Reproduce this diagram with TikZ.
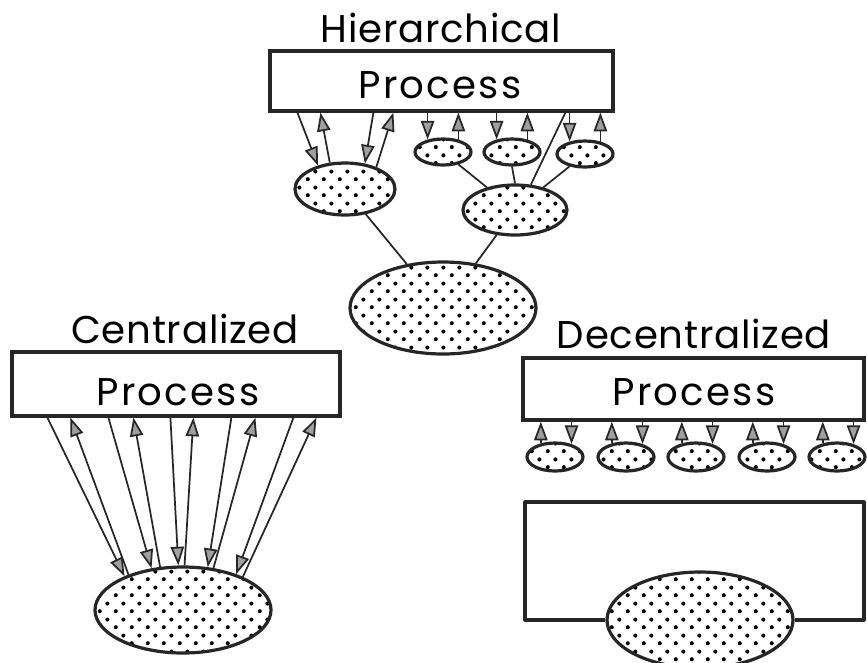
\documentclass[tikz,border=0pt]{standalone}
\usepackage{fontspec}
\setmainfont{Poppins}[LetterSpace=6]
\newfontfamily\headfont{Poppins}[LetterSpace=2]
\usetikzlibrary{arrows.meta,shapes.geometric,patterns.meta,calc}

% stippled fill for the controller ellipses
\tikzdeclarepattern{
  name=stipple,
  type=colored,
  bottom left={(0pt,0pt)},
  top right={(12pt,12pt)},
  tile size={(12pt,12pt)},
  code={
    \fill[black] (3pt,3pt) circle (1.6pt);
    \fill[black] (9pt,9pt) circle (1.6pt);
  }
}

\tikzset{
  pbox/.style={rectangle, draw=black!85, line width=2.4pt, inner sep=0pt},
  rim/.style={draw=black!85, line width=2.4pt, line join=round},
  blob/.style={ellipse, draw=black!85, line width=2.4pt, inner sep=0pt,
    preaction={fill=white}, pattern=stipple},
  lbl/.style={anchor=base, inner sep=0pt, font=\fontsize{29}{30}\selectfont},
  head/.style={anchor=base, inner sep=0pt, font=\headfont\fontsize{29}{30}\selectfont},
  link/.style={draw=black!85, line width=1.3pt},
  sig/.style={link, -{Triangle[length=14pt,width=10pt,fill=gray!75,line width=1.3pt]}},
}

\begin{document}
\begin{tikzpicture}[x=0.75pt, y=-0.75pt]
\useasboundingbox (0,0) rectangle (867,662);

% ---------------- hierarchical ----------------
\node[head] (htitle) at (441,42) {Hierarchical};
\node[pbox, minimum width=257.25pt, minimum height=45pt] (hbox) at (441.5,81) {};
\node[lbl] (htxt) at (440,98) {Process};

\node[blob, minimum width=75pt, minimum height=39pt] (hL) at (345,189) {};
\node[blob, minimum width=78pt, minimum height=37.5pt] (hR) at (515,210) {};
\node[blob, minimum width=42pt, minimum height=19.5pt] (hs1) at (443,152) {};
\node[blob, minimum width=42pt, minimum height=19.5pt] (hs2) at (512,152) {};
\node[blob, minimum width=42pt, minimum height=19.5pt] (hs3) at (585,154) {};
\node[blob, minimum width=139.5pt, minimum height=69pt] (hB) at (443,308) {};

\draw[sig] ($(hbox.south west)+(29,0)$) -- (hL.139);
\draw[sig] (hL.120) -- ($(hbox.south west)+(52,0)$);
\draw[sig] ($(hbox.south west)+(105,0)$) -- (hL.52);
\draw[sig] (hL.35) -- ($(hbox.south west)+(125,0)$);

\foreach \s in {hs1,hs2,hs3}{
  \draw[sig] (hbox.south -| \s.141) -- (\s.141);
  \draw[sig] (\s.39) -- (hbox.south -| \s.39);
}
\draw[link] (hR.58) -- ($(hbox.south west)+(297,0)$);
\draw[link] (hs1) -- (hR);
\draw[link] (hs2.south) -- (hR.north);
\draw[link] (hs3) -- (hR);
\draw[link] (hL) -- (hB);
\draw[link] (hR) -- (hB);

% ---------------- centralized ----------------
\node[head] (ctitle) at (185,343) {Centralized};
\node[pbox, minimum width=246pt, minimum height=48pt] (cbox) at (176,384) {};
\node[lbl] (ctxt) at (178,405) {Process};
\node[blob, minimum width=132pt, minimum height=64.5pt] (cE) at (183,610) {};

\foreach \o/\a in {37/150,98/127,160/96,221/60,283/34}{
  \draw[sig] ($(cbox.south west)+(\o,0)$) -- (cE.\a);
}
\foreach \o/\a in {60/147,123/118,183/88,245/54,306/29}{
  \draw[sig] (cE.\a) -- ($(cbox.south west)+(\o,0)$);
}

% ---------------- decentralized ----------------
\node[head] (dtitle) at (694,348) {Decentralized};
\node[pbox, minimum width=255.75pt, minimum height=46.5pt] (dbox) at (693.5,389) {};
\node[lbl] (dtxt) at (694,405) {Process};

\foreach \n/\x in {d1/555,d2/626,d3/696,d4/767,d5/837}{
  \node[blob, minimum width=42pt, minimum height=21pt] (\n) at (\x,457) {};
  \draw[sig] (\n.136) -- (dbox.south -| \n.136);
  \draw[sig] (dbox.south -| \n.38) -- (\n.38);
}

\node[blob, minimum width=139.5pt, minimum height=72pt] (dE) at (700,620) {};
\coordinate (dtl) at (525,502);
\coordinate (dbr) at (864,620);
\draw[rim] (dE.west) -| (dtl) -| (dbr) -- (dE.east);
\end{tikzpicture}
\end{document}
